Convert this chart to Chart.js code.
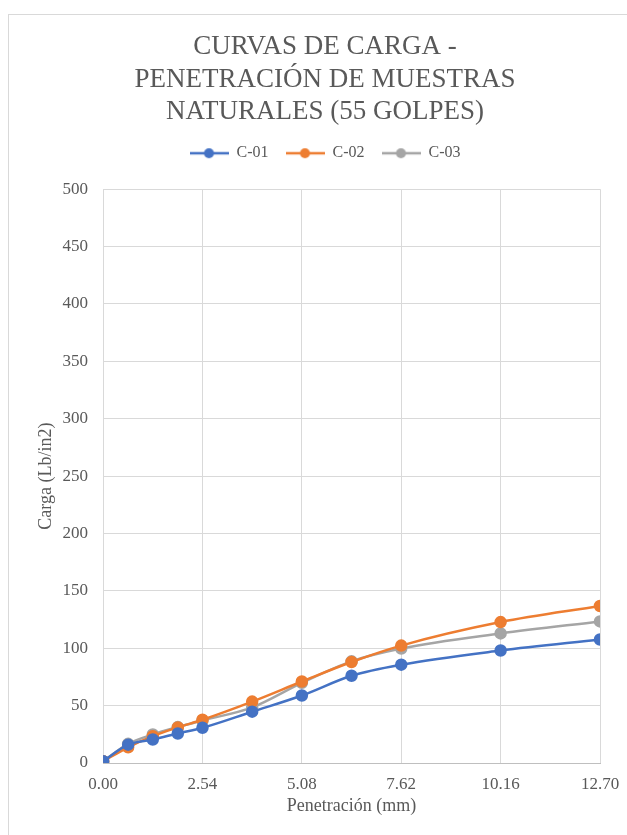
<!DOCTYPE html>
<html>
<head>
<meta charset="utf-8">
<script src="https://cdn.jsdelivr.net/npm/chart.js@4.4.0/dist/chart.umd.min.js"></script>
<style>
  html, body { margin: 0; padding: 0; background: #fff; }
  #frame {
    position: absolute; left: 8px; top: 14px; width: 640px; height: 840px;
    border: 1px solid #d9d9d9; box-sizing: border-box;
  }
  #wrap { position: absolute; left: 0; top: 0; width: 627px; height: 835px; }
</style>
</head>
<body>
<div id="frame"></div>
<div id="wrap"><canvas id="chart" width="627" height="835"></canvas></div>
<script>
// Penetración (mm) y carga (Lb/in2)
const penetracion = [0, 0.64, 1.27, 1.91, 2.54, 3.81, 5.08, 6.35, 7.62, 10.16, 12.70];
const c01 = [1.5, 16, 20.5, 25.7, 30.7, 44.7, 58.8, 76, 85.7, 98, 107.6];
const c02 = [1.5, 13.7, 23.4, 31, 37.7, 53.5, 71, 88, 102.3, 122.8, 136.8];
const c03 = [1.5, 16.7, 24.9, 31.3, 37.1, 48.5, 69.9, 88.6, 99.7, 112.9, 123.4];
const xTicks = [0, 2.54, 5.08, 7.62, 10.16, 12.70];

const gray = "#595959";
const serif = "'Liberation Serif', 'Times New Roman', serif";

// little line+circle icon for the legend
function legendIcon(color) {
  const c = document.createElement("canvas");
  c.width = 39; c.height = 12;
  const g = c.getContext("2d");
  g.strokeStyle = color; g.lineWidth = 2.5;
  g.beginPath(); g.moveTo(0, 6); g.lineTo(39, 6); g.stroke();
  g.fillStyle = color;
  g.beginPath(); g.arc(19.5, 6, 5, 0, Math.PI * 2); g.fill();
  return c;
}

function serie(label, values, color) {
  return {
    label: label,
    data: penetracion.map((x, i) => ({ x: x, y: values[i] })),
    borderColor: color,
    backgroundColor: color,
    pointBackgroundColor: color,
    pointBorderColor: color,
    borderWidth: 2.5,
    pointRadius: 5,
    tension: 0.3,
    cubicInterpolationMode: "monotone",
    icon: legendIcon(color)
  };
}

// extra room under the legend, and title/legend centred on the whole frame
const headerLayout = {
  id: "headerLayout",
  beforeLayout(chart) {
    const lg = chart.legend;
    if (lg && !lg._patched) {
      const fit = lg.fit;
      lg.fit = function () { fit.call(this); this.height += 18; };
      lg._patched = true;
    }
  },
  afterLayout(chart) {
    [chart.titleBlock, chart.legend].forEach(b => {
      if (!b) return;
      b.left = 50; b.right = 600; b.width = 550;
    });
  }
};

Chart.defaults.font.family = serif;
Chart.defaults.color = gray;

new Chart(document.getElementById("chart"), {
  type: "line",
  data: {
    datasets: [
      serie("C-01", c01, "#4472c4"),
      serie("C-02", c02, "#ed7d31"),
      serie("C-03", c03, "#a5a5a5")
    ]
  },
  plugins: [headerLayout],
  options: {
    responsive: false,
    animation: false,
    devicePixelRatio: 1,
    layout: { padding: { left: 20, right: 27, top: 31, bottom: 18 } },
    plugins: {
      title: {
        display: true,
        text: ["CURVAS DE CARGA -", "PENETRACIÓN DE MUESTRAS", "NATURALES (55 GOLPES)"],
        font: { size: 27, weight: "normal", family: serif, lineHeight: 1.2 },
        color: gray,
        padding: { top: 0, bottom: 0 }
      },
      legend: {
        position: "top",
        labels: {
          usePointStyle: true,
          pointStyleWidth: 39,
          font: { size: 16, family: serif },
          color: gray,
          padding: 17,
          generateLabels: chart => chart.data.datasets.map((ds, i) => ({
            text: ds.label,
            pointStyle: ds.icon,
            fontColor: gray,
            datasetIndex: i,
            hidden: false,
            lineWidth: 0
          }))
        }
      },
      tooltip: { enabled: false }
    },
    scales: {
      x: {
        type: "linear",
        min: 0,
        max: 12.7,
        afterBuildTicks: axis => { axis.ticks = xTicks.map(v => ({ value: v })); },
        afterFit: axis => { axis.paddingRight = 0; },
        ticks: {
          callback: v => v.toFixed(2),
          font: { size: 17, family: serif },
          color: gray,
          maxRotation: 0,
          padding: 11
        },
        grid: { color: "#d9d9d9", lineWidth: 1, drawTicks: false },
        border: { color: "#bfbfbf" },
        title: {
          display: true,
          text: "Penetración (mm)",
          font: { size: 18, family: serif },
          color: gray,
          padding: { top: -10, bottom: 0 }
        }
      },
      y: {
        min: 0,
        max: 500,
        ticks: {
          stepSize: 50,
          font: { size: 17, family: serif },
          color: gray,
          padding: 15
        },
        grid: { color: "#d9d9d9", lineWidth: 1, drawTicks: false },
        border: { display: false },
        title: {
          display: true,
          text: "Carga (Lb/in2)",
          font: { size: 18, family: serif },
          color: gray,
          padding: { top: 15, bottom: -9 }
        }
      }
    }
  }
});
</script>
</body>
</html>
